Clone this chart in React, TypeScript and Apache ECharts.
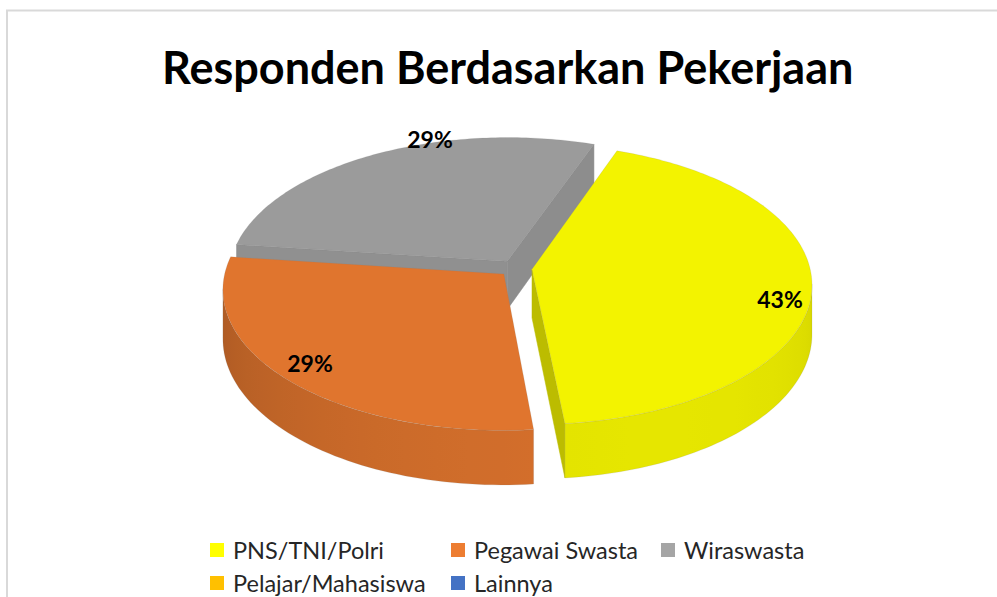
import React, { useEffect, useRef } from "react";
import * as echarts from "echarts";

const TITLE = "Responden Berdasarkan Pekerjaan";
const CATEGORIES = ["PNS/TNI/Polri", "Pegawai Swasta", "Wiraswasta", "Pelajar/Mahasiswa", "Lainnya"];
const VALUES = [3, 2, 2, 0, 0];
const LEGEND_COLORS = ["#FFFF00", "#ED7D31", "#A5A5A5", "#FFC000", "#4472C4"];
const TOP_COLORS = [[243, 243, 0], [224, 117, 46], [155, 155, 155], [255, 192, 0], [68, 114, 196]];

// 3D pie projection settings
const CX = 515.7, CY = 268.2, RX = 278, RY = 138.4, PERSP = 0.107, DEPTH = 48.5;
const EXPLODE = 0.059, FIRST_ANGLE = 20, STEP = 6;
const LABEL_POS = [[780, 299], [310, 363], [430, 139]];
const LEGEND_POS = [[210, 538], [451, 538], [661, 538], [210, 571], [451, 571]];
const FONT = "Lato, Carlito, sans-serif";

const total = VALUES.reduce((a, b) => a + b, 0);
const rad = (d: number) => (d * Math.PI) / 180;
function sliceAngles(i: number) {
  const before = VALUES.slice(0, i).reduce((a, b) => a + b, 0);
  return [FIRST_ANGLE + (before / total) * 360, FIRST_ANGLE + ((before + VALUES[i]) / total) * 360];
}
function project(u: number, v: number, down: boolean) {
  const s = 1 / (1 + PERSP * v);
  return [CX + RX * u * s, CY - RY * v * s + (down ? DEPTH * s : 0)];
}
function shade(c: number[], nu: number, nv: number) {
  const f = 0.815 + 0.055 * nu - 0.12 * nv;
  return `rgb(${c.map((x) => Math.round(x * f)).join(",")})`;
}

function renderSlice(params: any, api: any) {
  const i = params.seriesIndex;
  const value = api.value(0);
  if (!value) return null;
  const [a0, a1] = sliceAngles(i);
  const mid = rad((a0 + a1) / 2);
  const ou = EXPLODE * Math.sin(mid), ov = EXPLODE * Math.cos(mid);
  const edge = (deg: number, down: boolean) => project(ou + Math.sin(rad(deg)), ov + Math.cos(rad(deg)), down);
  const c = TOP_COLORS[i];
  const children: any[] = [];

  const face = (deg: number, nu: number, nv: number) => {
    const fill = shade(c, nu, nv);
    children.push({
      type: "polygon",
      shape: { points: [project(ou, ov, false), edge(deg, false), edge(deg, true), project(ou, ov, true)] },
      style: { fill, stroke: fill, lineWidth: 0.5 },
    });
  };
  if (Math.sin(rad(a0)) < 0) face(a0, -Math.cos(rad(a0)), Math.sin(rad(a0)));
  if (Math.sin(rad(a1)) > 0) face(a1, Math.cos(rad(a1)), -Math.sin(rad(a1)));

  // outer wall, one polygon with a horizontal shading gradient
  const from = Math.max(a0, 96), to = Math.min(a1, 264);
  if (to > from) {
    const up: number[][] = [], low: number[][] = [];
    for (let d = from; d <= to + 0.001; d += (to - from) / 60) {
      up.push(edge(d, false));
      low.unshift(edge(d, true));
    }
    const x0 = up[0][0], x1 = up[up.length - 1][0];
    const colorStops: any[] = [];
    for (let d = from; d <= to + 0.001; d += STEP) {
      const p = edge(d, false);
      colorStops.push({
        offset: Math.min(1, Math.max(0, (p[0] - x0) / (x1 - x0))),
        color: shade(c, Math.sin(rad(d)), Math.cos(rad(d))),
      });
    }
    const fill: any = { type: "linear", x: x0, y: 0, x2: x1, y2: 0, global: true, colorStops };
    children.push({
      type: "polygon",
      shape: { points: [...up, ...low] },
      style: { fill, stroke: "rgba(128,128,128,0.3)", lineWidth: 0.5 },
    });
  }

  const top: number[][] = [project(ou, ov, false)];
  for (let d = a0; d < a1; d += 1) top.push(edge(d, false));
  top.push(edge(a1, false));
  children.push({
    type: "polygon",
    shape: { points: top },
    style: { fill: `rgb(${c.join(",")})`, stroke: "rgba(128,128,128,0.3)", lineWidth: 0.5 },
  });

  children.push({
    type: "text",
    x: LABEL_POS[i][0],
    y: LABEL_POS[i][1],
    style: {
      text: `${Math.round((value / total) * 100)}%`,
      fill: "#000",
      fontFamily: FONT,
      fontWeight: 700,
      fontSize: 23,
      align: "center",
      verticalAlign: "middle",
    },
  });
  return { type: "group", children };
}

export default function App() {
  const ref = useRef<HTMLDivElement>(null);
  useEffect(() => {
    const chart = echarts.init(ref.current!, undefined, { renderer: "svg" });
    chart.setOption({
      animation: false,
      backgroundColor: "#fff",
      title: {
        text: TITLE,
        left: 157,
        top: 39,
        textStyle: { fontFamily: FONT, fontWeight: 700, fontSize: 45, color: "#000" },
      },
      legend: CATEGORIES.map((name, i) => ({
        data: [name],
        left: LEGEND_POS[i][0],
        top: LEGEND_POS[i][1],
        padding: 0,
        itemWidth: 14,
        itemHeight: 14,
        icon: "rect",
        selectedMode: false,
        textStyle: { fontFamily: FONT, fontSize: 23.5, color: "#262626", lineHeight: 20, padding: [0, 0, 0, 4] },
      })),
      graphic: [
        { type: "line", shape: { x1: 6, y1: 10.5, x2: 997, y2: 10.5 }, style: { stroke: "#d9d9d9", lineWidth: 2 } },
        { type: "line", shape: { x1: 7, y1: 10, x2: 7, y2: 597 }, style: { stroke: "#d9d9d9", lineWidth: 2 } },
      ],
      series: CATEGORIES.map((name, i) => ({
        type: "custom",
        name,
        coordinateSystem: "none",
        z: 2 + (CATEGORIES.length - i),
        silent: true,
        itemStyle: { color: LEGEND_COLORS[i] },
        data: [[VALUES[i]]],
        renderItem: renderSlice,
      })),
    });
    return () => chart.dispose();
  }, []);
  return <div ref={ref} style={{ position: "absolute", left: 0, top: 0, width: 997, height: 597 }} />;
}
